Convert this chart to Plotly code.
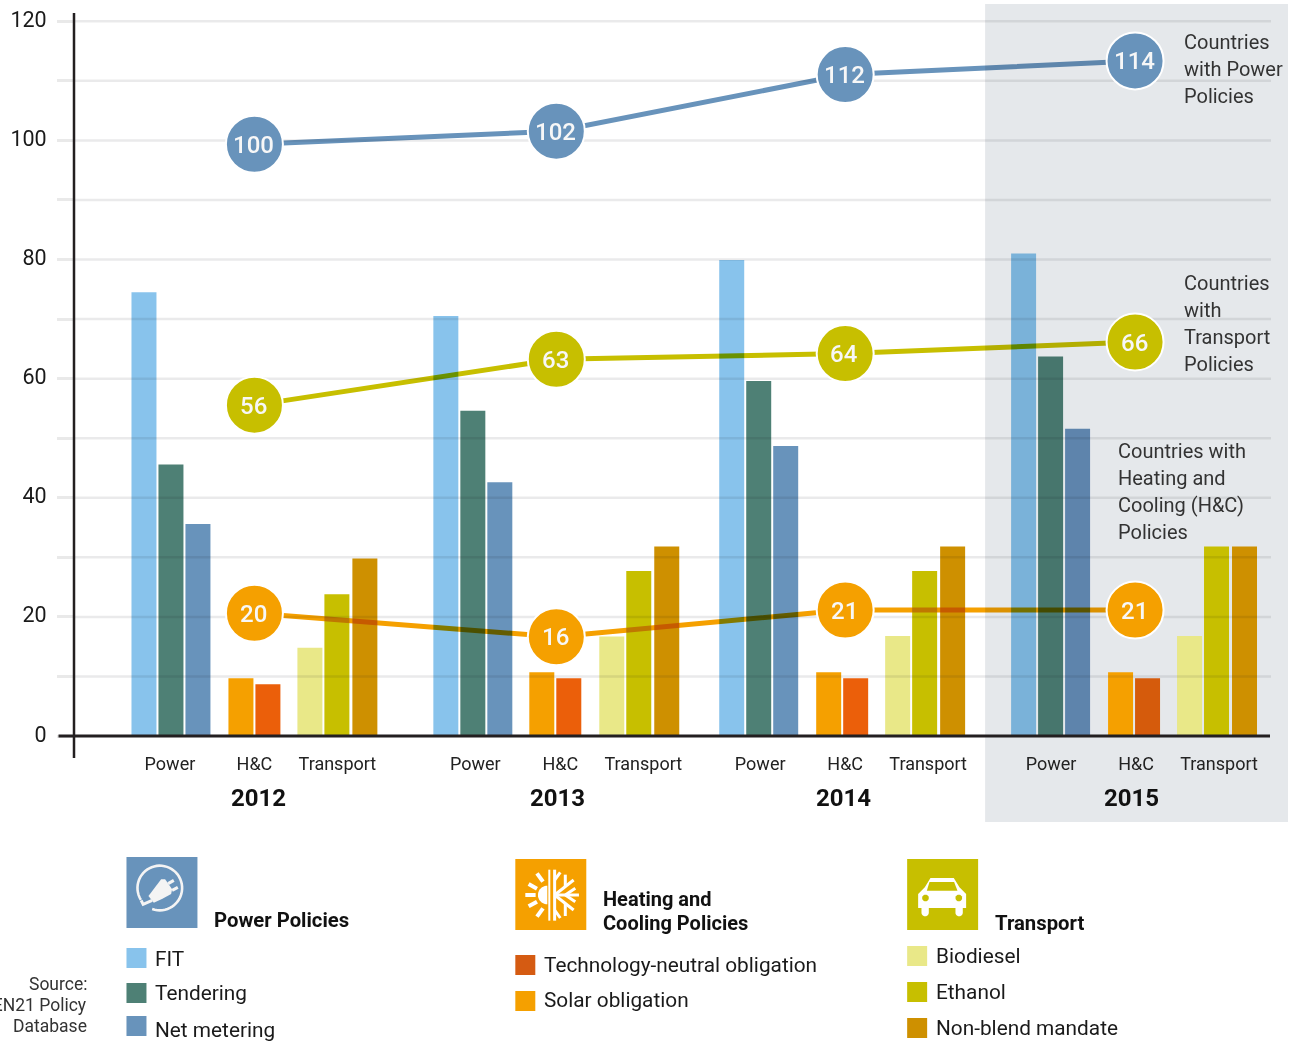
import math
import plotly.graph_objects as go

# ---------- data ----------
years = ["2012", "2013", "2014", "2015"]
fit = [74.5, 70.5, 79.9, 81.0]
tendering = [45.6, 54.6, 59.6, 63.7]
net_metering = [35.6, 42.6, 48.7, 51.6]
solar = [9.7, 10.7, 10.7, 10.7]
tech_neutral = [8.7, 9.7, 9.7, 9.7]
biodiesel = [14.8, 16.7, 16.8, 16.8]
ethanol = [23.8, 27.7, 27.7, 31.8]
non_blend = [29.8, 31.8, 31.8, 31.8]

power_labels = ["100", "102", "112", "114"]
power_pos = [99.35, 101.55, 111.05, 113.35]
transport_labels = ["56", "63", "64", "66"]
transport_pos = [55.55, 63.25, 64.2, 66.15]
heat_labels = ["20", "16", "21", "21"]
heat_pos = [20.6, 16.65, 21.15, 21.15]

y_ticks = [0, 10, 20, 30, 40, 50, 60, 70, 80, 90, 100, 110, 120]
y_text = ["0", "", "20", "", "40", "", "60", "", "80", "", "100", "", "120"]
group_labels = ["Power", "H&C", "Transport"]

# ---------- layout constants (x axis runs in page pixels) ----------
W, H = 1301, 1041
ML, MR, MT, MB = 73.5, 30, 13, 305
group_start = [131, 433, 719, 1011]
offset_power = [0, 27, 54]
offset_heat = [[97, 124], [96, 123], [97, 124], [97, 124]]
offset_trans = [166, 193, 221]
bubble_x = [254, 556, 845, 1135]
label_x = [169.5, 254, 337, 475, 560, 643, 760, 845, 928, 1051, 1136, 1219]
year_x = [258, 557, 843, 1131]
BAR_W = 25
Y_TOP = (H - MB - MT) / 5.956

FONT = "Roboto"
BLUE, TEAL, SKY = "#6893BB", "#4E8075", "#88C3EC"
ORANGE, RED, PALE, OLIVE, AMBER = "#F5A000", "#EB5F0A", "#E9E888", "#C7BF00", "#CE9000"


def px(x):
    return (x - ML) / (W - ML - MR)


def py(y):
    return (H - MB - y) / (H - MB - MT)


def bar(name, vals, off, colors):
    xs = [g + off + BAR_W / 2 for g in group_start]
    return go.Bar(name=name, x=xs, y=vals, width=BAR_W, marker=dict(color=colors, line=dict(width=0)))


fig = go.Figure()
fig.add_trace(bar("FIT", fit, offset_power[0], [SKY] * 3 + ["#7AB2D9"]))
fig.add_trace(bar("Tendering", tendering, offset_power[1], [TEAL] * 3 + ["#47766D"]))
fig.add_trace(bar("Net metering", net_metering, offset_power[2], [BLUE] * 3 + ["#5E84AC"]))
fig.add_trace(go.Bar(name="Solar obligation", x=[g + o[0] + BAR_W / 2 for g, o in zip(group_start, offset_heat)],
                     y=solar, width=BAR_W, marker=dict(color=ORANGE, line=dict(width=0))))
fig.add_trace(go.Bar(name="Technology-neutral obligation", x=[g + o[1] + BAR_W / 2 for g, o in zip(group_start, offset_heat)],
                     y=tech_neutral, width=BAR_W, marker=dict(color=[RED] * 3 + ["#D55B0C"], line=dict(width=0))))
fig.add_trace(bar("Biodiesel", biodiesel, offset_trans[0], PALE))
fig.add_trace(bar("Ethanol", ethanol, offset_trans[1], OLIVE))
fig.add_trace(bar("Non-blend mandate", non_blend, offset_trans[2], AMBER))

# gridlines sit over the bars, semi-transparent
gx, gy = [], []
for t in y_ticks[1:]:
    gx += [ML, W - MR, None]
    gy += [t, t, None]
fig.add_trace(go.Scatter(x=gx, y=gy, mode="lines", line=dict(color="rgba(20,25,30,0.09)", width=2.5), hoverinfo="skip"))

ann = []

# count lines and bubbles
for vals, labels, col in [
    (power_pos, power_labels, BLUE),
    (transport_pos, transport_labels, OLIVE),
    (heat_pos, heat_labels, ORANGE),
]:
    fig.add_trace(go.Scatter(x=bubble_x, y=vals, mode="lines", line=dict(color=col, width=5), hoverinfo="skip"))
    fig.add_trace(go.Scatter(x=bubble_x, y=vals, mode="markers",
                             marker=dict(color=col, size=57, line=dict(color="white", width=2)),
                             hoverinfo="skip", cliponaxis=False))
    for xx, yy, s in zip(bubble_x, vals, labels):
        ann.append(dict(xref="x", yref="y", x=xx, y=yy, text=s, showarrow=False, xshift=-1, yshift=-0.5,
                        xanchor="center", yanchor="middle",
                        font=dict(family=FONT, size=24, color="#F7F7F7", weight=500)))

shapes = []


def rect(x0, y0, x1, y1, color, layer="above"):
    shapes.append(dict(type="rect", xref="paper", yref="paper", x0=px(x0), x1=px(x1), y0=py(y0), y1=py(y1),
                       fillcolor=color, line=dict(width=0), layer=layer))


def seg(x0, y0, x1, y1, color, width):
    shapes.append(dict(type="line", xref="paper", yref="paper", x0=px(x0), x1=px(x1), y0=py(y0), y1=py(y1),
                       line=dict(color=color, width=width), layer="above"))


def path(pts, ox, oy, fill=None, stroke=None, width=0, close=True):
    """Icon outline; pts are in 3x crop pixels relative to (ox, oy)."""
    d = "M" + " L".join(f"{px(ox + a / 3):.5f},{py(oy + b / 3):.5f}" for a, b in pts) + (" Z" if close else "")
    s = dict(type="path", xref="paper", yref="paper", path=d, layer="above",
             line=dict(color=stroke or "rgba(0,0,0,0)", width=width))
    if fill:
        s["fillcolor"] = fill
    shapes.append(s)


def arc(cx, cy, r, a0, a1, n=48):
    return [(cx + r * math.cos(math.radians(a0 + (a1 - a0) * i / n)),
             cy + r * math.sin(math.radians(a0 + (a1 - a0) * i / n))) for i in range(n + 1)]


# 2015 band and axes
rect(985, 4, 1288, 822, "#E5E8EB", layer="below")
seg(73.5, 13, 73.5, 758, "#231F20", 2.5)
seg(58, 736, 1270, 736, "#231F20", 3)

# icon squares
rect(126, 857, 197, 928, BLUE)
rect(515, 859, 586, 930, ORANGE)
rect(907, 859, 978, 930, OLIVE)

# plug icon
WH = "#F4F4F4"
ox, oy = 120, 852
path(arc(118, 108, 67, 148, 470), ox, oy, stroke=WH, width=2.6, close=False)
path([(122, 82), (134, 82), (155, 112), (152, 126), (126, 140), (100, 152), (84, 132)], ox, oy, fill=WH)
path([(143, 95), (160, 85)], ox, oy, stroke=WH, width=3, close=False)
path([(155, 115), (172, 106)], ox, oy, stroke=WH, width=3, close=False)
path([(62, 145), (68, 157), (95, 145)], ox, oy, stroke=WH, width=3, close=False)

# sun / snowflake icon
ox, oy = 510, 854
W2 = "white"
path(arc(111, 123, 28, 90, 270, 24), ox, oy, fill=W2)
path([(117, 47), (117, 200)], ox, oy, stroke=W2, width=2, close=False)
for a, b, c, d in [(45, 123, 76, 123), (55, 90, 80, 104), (80, 58, 98, 83), (55, 157, 80, 143), (80, 188, 98, 163)]:
    path([(a, b), (c, d)], ox, oy, stroke=W2, width=4, close=False)
path([(133, 47), (133, 200)], ox, oy, stroke=W2, width=3, close=False)
for a, b, c, d in [
    (133, 123, 206, 123), (133, 123, 190, 78), (133, 123, 190, 168),
    (133, 78, 150, 55), (133, 168, 150, 192),
    (165, 98, 165, 62), (165, 148, 165, 186),
    (165, 123, 195, 103), (165, 123, 195, 143),
]:
    path([(a, b), (c, d)], ox, oy, stroke=W2, width=3, close=False)

# car icon
ox, oy = 902, 854
path([(85, 72), (155, 72), (172, 100), (192, 120), (192, 162), (48, 162), (48, 120), (68, 100)], ox, oy, fill=W2)
path([(82, 84), (156, 84), (166, 110), (74, 110)], ox, oy, fill=OLIVE)
path(arc(70, 132, 10, 0, 360, 24), ox, oy, fill=OLIVE)
path(arc(170, 132, 10, 0, 360, 24), ox, oy, fill=OLIVE)
path([(58, 160), (80, 160), (80, 176)] + arc(69, 176, 11, 0, 180, 12)[1:], ox, oy, fill=W2)
path([(160, 160), (182, 160), (182, 176)] + arc(171, 176, 11, 0, 180, 12)[1:], ox, oy, fill=W2)

# legend swatches
for x, y, c in [
    (126, 948, SKY), (126, 983, TEAL), (126, 1016, BLUE),
    (515, 955, "#D55B12"), (515, 991, ORANGE),
    (907, 946, PALE), (907, 982, OLIVE), (907, 1018, AMBER),
]:
    rect(x, y, x + 20, y + 20, c)


def text(x, y, s, size=20.8, color="#1A1A1A", bold=False, anchor="left", align="left"):
    nudge = {"left": -2, "right": 2, "center": 0}[anchor]
    ann.append(dict(xref="paper", yref="paper", x=px(x + nudge), y=py(y), text=f"<b>{s}</b>" if bold else s,
                    showarrow=False, xanchor=anchor, yanchor="middle", align=align,
                    font=dict(family=FONT, size=size, color=color)))


def block(x, y0, step, lines, **kw):
    for i, s in enumerate(lines):
        text(x, y0 + i * step, s, **kw)


for xx, yr in zip(year_x, years):
    text(xx, 798, yr, size=24, color="#111111", bold=True, anchor="center")

SIDE = "#333333"
block(1184, 42, 27, ["Countries", "with Power", "Policies"], size=20, color=SIDE)
block(1184, 283, 27, ["Countries", "with", "Transport", "Policies"], size=20, color=SIDE)
block(1118, 451, 27, ["Countries with", "Heating and", "Cooling (H&C)", "Policies"], size=20, color=SIDE)
text(214, 920, "Power Policies", color="#111111", bold=True, size=20.3)
block(603, 899, 24, ["Heating and", "Cooling Policies"], size=20, color="#111111", bold=True)
text(995, 923, "Transport", color="#111111", bold=True, size=20.3)
for x, y, s in [
    (155, 959, "FIT"), (155, 993, "Tendering"), (155, 1030, "Net metering"),
    (544, 965, "Technology-neutral obligation"), (544, 1000, "Solar obligation"),
    (936, 956, "Biodiesel"), (936, 992, "Ethanol"), (936, 1028, "Non-blend mandate"),
]:
    text(x, y, s)
block(87, 984, 21, ["Source:", "REN21 Policy", "Database"], size=17.5, color="#333333", anchor="right", align="right")

fig.update_layout(
    width=W, height=H, autosize=False,
    margin=dict(l=ML, r=MR, t=MT, b=MB, pad=0, autoexpand=False),
    paper_bgcolor="white", plot_bgcolor="rgba(0,0,0,0)",
    showlegend=False, barmode="overlay",
    shapes=shapes, annotations=ann,
    xaxis=dict(range=[ML, W - MR], tickmode="array", tickvals=label_x, ticktext=group_labels * 4,
               showgrid=False, zeroline=False, showline=False, ticks="outside", ticklen=11,
               tickcolor="rgba(0,0,0,0)", tickfont=dict(family=FONT, size=18, color="#222222")),
    yaxis=dict(range=[0, Y_TOP], tickmode="array", tickvals=y_ticks, ticktext=y_text,
               showgrid=False, zeroline=False, showline=False, ticks="outside", ticklen=16, tickwidth=2.5,
               tickcolor="#E9E9E9", ticklabelstandoff=6, ticklabelshift=-2,
               tickfont=dict(family=FONT, size=21.5, color="#1A1A1A")),
)

# page margin off; count lines blend multiplicatively with the bars, as printed in the reference
POST = """
document.body.style.margin = '0';
var gd = document.getElementById('{plot_id}');
function blend() {
  gd.querySelectorAll('.scatterlayer .trace .js-line').forEach(function (el, i) {
    if (i > 0) { el.style.mixBlendMode = 'multiply'; }
  });
}
blend();
gd.on('plotly_afterplot', blend);
"""
fig.write_html("out.html", post_script=POST, config={"displayModeBar": False})
